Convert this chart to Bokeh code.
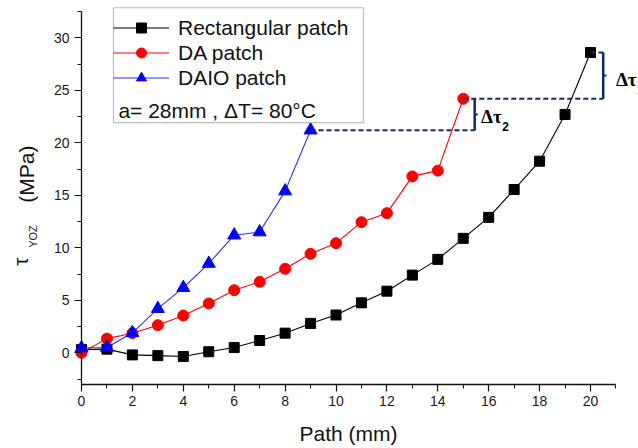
import math
from bokeh.plotting import figure
from bokeh.models import Legend, LegendItem, Label, BoxAnnotation, SingleIntervalTicker
from bokeh.embed import file_html
from bokeh.resources import INLINE

# ---- data ----
path_rect = list(range(0, 21))
tau_rect = [0.3, 0.35, -0.2, -0.27, -0.35, 0.1, 0.5, 1.17, 1.87, 2.8, 3.6,
            4.76, 5.87, 7.4, 8.9, 10.9, 12.9, 15.55, 18.25, 22.7, 28.6]
path_da = list(range(0, 16))
tau_da = [0.0, 1.35, 1.87, 2.63, 3.55, 4.7, 5.96, 6.76, 8.0, 9.43, 10.44,
          12.44, 13.3, 16.8, 17.35, 24.2]
path_daio = list(range(0, 10))
tau_daio = [0.45, 0.5, 1.9, 4.2, 6.2, 8.5, 11.2, 11.5, 15.4, 21.2]

series_names = ["Rectangular patch", "DA patch", "DAIO patch"]
note_text = "a= 28mm , \u0394T= 80\u00b0C"
x_axis_bounds = (0, 21)
y_axis_bounds = (-3, 32.5)
x_ticks_interval = 2
y_ticks_interval = 5
bracket2_x = 15.45   # position of the Δτ2 bracket (path units)
bracket1_x = 20.5    # position of the Δτ1 bracket (path units)

FONT = "Liberation Sans"
NAVY = "#0d2b6b"

W, H = 638, 448
PX_X, X0_PX = 25.45, 81.0     # pixels per mm, pixel of path = 0
PX_Y, Y0_PX = 10.5, 352.3     # pixels per MPa, pixel of tau = 0
x_range = (-X0_PX / PX_X, (W - X0_PX) / PX_X)
y_range = (Y0_PX / PX_Y - H / PX_Y, Y0_PX / PX_Y)

p = figure(width=W, height=H, x_range=x_range, y_range=y_range,
           output_backend="svg", toolbar_location=None,
           min_border_left=0, min_border_right=0, min_border_top=0,
           min_border_bottom=0)
p.outline_line_color = None
p.xgrid.visible = False
p.ygrid.visible = False
p.background_fill_color = "white"

p.xaxis.fixed_location = y_axis_bounds[0]
p.yaxis.fixed_location = x_axis_bounds[0]
p.xaxis.bounds = x_axis_bounds
p.yaxis.bounds = y_axis_bounds
p.xaxis.ticker = SingleIntervalTicker(interval=x_ticks_interval, num_minor_ticks=2)
p.yaxis.ticker = SingleIntervalTicker(interval=y_ticks_interval, num_minor_ticks=2)
for ax in (p.xaxis[0], p.yaxis[0]):
    ax.axis_line_color = "#111111"
    ax.axis_line_width = 1.3
    ax.major_tick_line_color = "#111111"
    ax.minor_tick_line_color = "#111111"
    ax.major_tick_line_width = 1.2
    ax.minor_tick_line_width = 1.0
    ax.major_tick_in = 0
    ax.major_tick_out = 7
    ax.minor_tick_in = 0
    ax.minor_tick_out = 4
    ax.major_label_text_font = FONT
    ax.major_label_text_font_size = "14px"
    ax.major_label_text_color = "#1a1a1a"
p.xaxis.major_label_standoff = 5
p.yaxis.major_label_standoff = 5

p.xaxis.axis_label = "Path (mm)"
p.xaxis.axis_label_text_font = FONT
p.xaxis.axis_label_text_font_size = "21px"
p.xaxis.axis_label_text_font_style = "normal"
p.xaxis.axis_label_text_color = "#111111"
p.xaxis.axis_label_standoff = 12

# ---- series ----
r_line = p.line(path_rect, tau_rect, line_color="black", line_width=1.1)
r_mark = p.scatter(path_rect, tau_rect, marker="square", size=10,
                   fill_color="black", line_color="black")
d_line = p.line(path_da, tau_da, line_color="#ff0000", line_width=1.1)
d_mark = p.scatter(path_da, tau_da, marker="circle", size=11,
                   fill_color="#ff0000", line_color="#ff0000")
b_line = p.line(path_daio, tau_daio, line_color="#2233ff", line_width=1.1)
b_mark = p.scatter(path_daio, tau_daio, marker="triangle", size=13,
                   fill_color="#0000ff", line_color="#0000ff")

# ---- Δτ annotations (derived from end points of the series) ----
y_b = tau_daio[-1]
y_d = tau_da[-1]
y_r = tau_rect[-1]
p.segment(x0=[path_daio[-1], path_da[-1], path_rect[-1]],
          y0=[y_b, y_d, y_r],
          x1=[bracket2_x, bracket1_x, bracket1_x],
          y1=[y_b, y_d, y_r],
          line_color=NAVY, line_width=2, line_dash="5 3")
p.segment(x0=[bracket2_x, bracket1_x], y0=[y_b, y_d],
          x1=[bracket2_x, bracket1_x], y1=[y_d, y_r],
          line_color=NAVY, line_width=2.5)
p.segment(x0=[bracket2_x, bracket1_x], y0=[(y_b + y_d) / 2, (y_d + y_r) / 2],
          x1=[bracket2_x + 0.12, bracket1_x + 0.12], y1=[(y_b + y_d) / 2, (y_d + y_r) / 2],
          line_color=NAVY, line_width=2)

for bx, ymid, sub, dx, dy in ((bracket2_x, (y_b + y_d) / 2, "2", 0.25, -0.2),
                              (bracket1_x, (y_d + y_r) / 2, "1", 0.5, -0.4)):
    p.add_layout(Label(x=bx + dx, y=ymid + dy, text="\u0394\u03c4",
                       text_font="Liberation Serif", text_font_style="bold",
                       text_font_size="19px", text_color="black",
                       text_baseline="alphabetic"))
    p.add_layout(Label(x=bx + dx + 0.83, y=ymid + dy - 0.95, text=sub,
                       text_font=FONT, text_font_style="bold",
                       text_font_size="12px", text_color="black",
                       text_baseline="alphabetic"))

# ---- y axis title, drawn as rotated labels ----
p.add_layout(Label(x=-2.4, y=8.3, text="\u03c4", angle=math.pi / 2,
                   text_font=FONT, text_font_size="21px", text_color="#111111",
                   text_baseline="alphabetic"))
p.add_layout(Label(x=-1.92, y=10.0, text="YOZ", angle=math.pi / 2,
                   text_font=FONT, text_font_size="11px", text_color="#111111",
                   text_baseline="alphabetic"))
p.add_layout(Label(x=-2.15, y=14.3, text="(MPa)", angle=math.pi / 2,
                   text_font=FONT, text_font_size="21px", text_color="#111111",
                   text_baseline="alphabetic"))

# ---- legend box, legend and note ----
p.add_layout(BoxAnnotation(left=1.257, right=11.08, bottom=21.93, top=32.86,
                           fill_color="white", fill_alpha=1.0,
                           line_color="#222222", line_width=1.2))
legend = Legend(items=[
    LegendItem(label=series_names[0], renderers=[r_line, r_mark]),
    LegendItem(label=series_names[1], renderers=[d_line, d_mark]),
    LegendItem(label=series_names[2], renderers=[b_line, b_mark]),
], location=(113, 358), orientation="vertical")
legend.border_line_color = None
legend.background_fill_alpha = 0
legend.padding = 4
legend.margin = 0
legend.spacing = 0
legend.glyph_width = 56
legend.glyph_height = 25
legend.label_height = 25
legend.label_standoff = 9
legend.label_text_font = FONT
legend.label_text_font_size = "21px"
legend.label_text_color = "#111111"
p.add_layout(legend)
p.add_layout(Label(x=1.45, y=23.1, text=note_text, text_font=FONT,
                   text_font_size="21px", text_color="#111111",
                   text_baseline="alphabetic"))

open("out.html", "w").write(file_html(p, INLINE))
